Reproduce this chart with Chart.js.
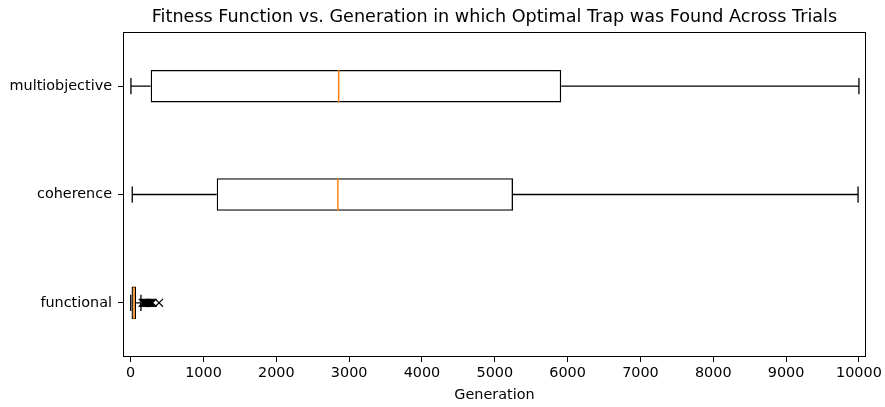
<!DOCTYPE html>
<html>
<head>
<meta charset="utf-8">
<script src="https://cdn.jsdelivr.net/npm/chart.js@4"></script>
<style>
  html, body { margin: 0; padding: 0; background: #fff; }
  canvas { display: block; }
</style>
</head>
<body>
<canvas id="c" width="885" height="407"></canvas>
<script>
// ---- data ----
const categories   = ['multiobjective', 'coherence', 'functional'];
const whiskerLow   = [4, 22, 1];
const q1           = [275, 1182, 12];
const median       = [2856, 2845, 45];
const q3           = [5912, 5250, 75];
const whiskerHigh  = [10000, 9988, 141];
const outlierCategory = 'functional';
const outlierValues   = [165, 180, 195, 210, 225, 240, 255, 270, 285, 300, 390];
const xTickValues  = [0, 1000, 2000, 3000, 4000, 5000, 6000, 7000, 8000, 9000, 10000];
const titleText = 'Fitness Function vs. Generation in which Optimal Trap was Found Across Trials';
const xTitle = 'Generation';

const FONT = 'DejaVu Sans';
const TICK_SIZE = 14.4;
const TITLE_SIZE = 17.6;
const LW = 1.3;
const BOX_FRAC = 0.3;

const boxPlugin = {
  id: 'boxExtras',
  afterDatasetsDraw(chart) {
    const ctx = chart.ctx;
    const xs = chart.scales.x, ys = chart.scales.y;
    const band = Math.abs(ys.getPixelForValue(1) - ys.getPixelForValue(0));
    const half = band * BOX_FRAC / 2;
    const capHalf = half / 2;
    ctx.save();
    categories.forEach((c, i) => {
      const yc = ys.getPixelForValue(i);
      const xl = xs.getPixelForValue(whiskerLow[i]);
      const x1 = xs.getPixelForValue(q1[i]);
      const x3 = xs.getPixelForValue(q3[i]);
      const xh = xs.getPixelForValue(whiskerHigh[i]);
      const xm = xs.getPixelForValue(median[i]);
      ctx.strokeStyle = '#000';
      ctx.lineWidth = LW;
      ctx.beginPath();
      ctx.moveTo(xl, yc); ctx.lineTo(x1, yc);
      ctx.moveTo(x3, yc); ctx.lineTo(xh, yc);
      ctx.moveTo(xl, yc - capHalf); ctx.lineTo(xl, yc + capHalf);
      ctx.moveTo(xh, yc - capHalf); ctx.lineTo(xh, yc + capHalf);
      ctx.stroke();
      ctx.strokeStyle = '#ff7f0e';
      ctx.lineWidth = 1.5;
      ctx.beginPath();
      ctx.moveTo(xm, yc - half); ctx.lineTo(xm, yc + half);
      ctx.stroke();
    });
    ctx.restore();
  },
  afterDraw(chart) {
    const ctx = chart.ctx;
    const a = chart.chartArea;
    ctx.save();
    ctx.strokeStyle = '#000';
    ctx.lineWidth = 1;
    ctx.strokeRect(Math.round(a.left) + 0.5, Math.round(a.top) + 0.5,
                   Math.round(a.right - a.left) - 1, Math.round(a.bottom - a.top) - 1);
    ctx.fillStyle = '#000';
    ctx.font = TITLE_SIZE + 'px "' + FONT + '"';
    ctx.textAlign = 'center';
    ctx.textBaseline = 'alphabetic';
    ctx.fillText(titleText, (a.left + a.right) / 2, 22);
    ctx.restore();
  }
};

new Chart(document.getElementById('c'), {
  type: 'bar',
  data: {
    labels: categories,
    datasets: [
      {
        type: 'bar',
        data: categories.map((c, i) => [q1[i], q3[i]]),
        backgroundColor: 'rgba(0,0,0,0)',
        borderColor: '#000',
        borderWidth: LW,
        borderSkipped: false,
        barPercentage: BOX_FRAC,
        categoryPercentage: 1,
        order: 2
      },
      {
        type: 'scatter',
        data: outlierValues.map(v => ({ x: v, y: outlierCategory })),
        pointStyle: 'crossRot',
        pointRadius: 5.6,
        borderColor: '#000',
        backgroundColor: '#000',
        borderWidth: 1.2,
        showLine: false,
        order: 1
      }
    ]
  },
  options: {
    indexAxis: 'y',
    responsive: false,
    animation: false,
    devicePixelRatio: 1,
    layout: { padding: { top: 32, right: 19, left: 0, bottom: 0 } },
    plugins: {
      legend: { display: false },
      tooltip: { enabled: false },
      title: { display: false }
    },
    scales: {
      x: {
        type: 'linear',
        position: 'bottom',
        min: -105,
        max: 10096,
        afterBuildTicks(scale) { scale.ticks = xTickValues.map(v => ({ value: v })); },
        afterFit(scale) { scale.height = 50; },
        grid: { display: true, drawOnChartArea: false, drawTicks: true, tickLength: 5, color: '#000', lineWidth: 1 },
        border: { display: false },
        ticks: {
          autoSkip: false,
          maxRotation: 0,
          color: '#000',
          padding: 3,
          callback: (v) => String(v),
          font: { family: FONT, size: TICK_SIZE }
        },
        title: {
          display: true,
          text: xTitle,
          color: '#000',
          font: { family: FONT, size: TICK_SIZE },
          padding: { top: 0, bottom: 3 }
        }
      },
      y: {
        type: 'category',
        labels: categories,
        offset: true,
        afterFit(scale) { scale.width = 123; },
        grid: { display: true, drawOnChartArea: false, drawTicks: true, tickLength: 5, color: '#000', lineWidth: 1, offset: false },
        border: { display: false },
        ticks: {
          color: '#000',
          padding: 6,
          font: { family: FONT, size: TICK_SIZE }
        }
      }
    }
  },
  plugins: [boxPlugin]
});
</script>
</body>
</html>
